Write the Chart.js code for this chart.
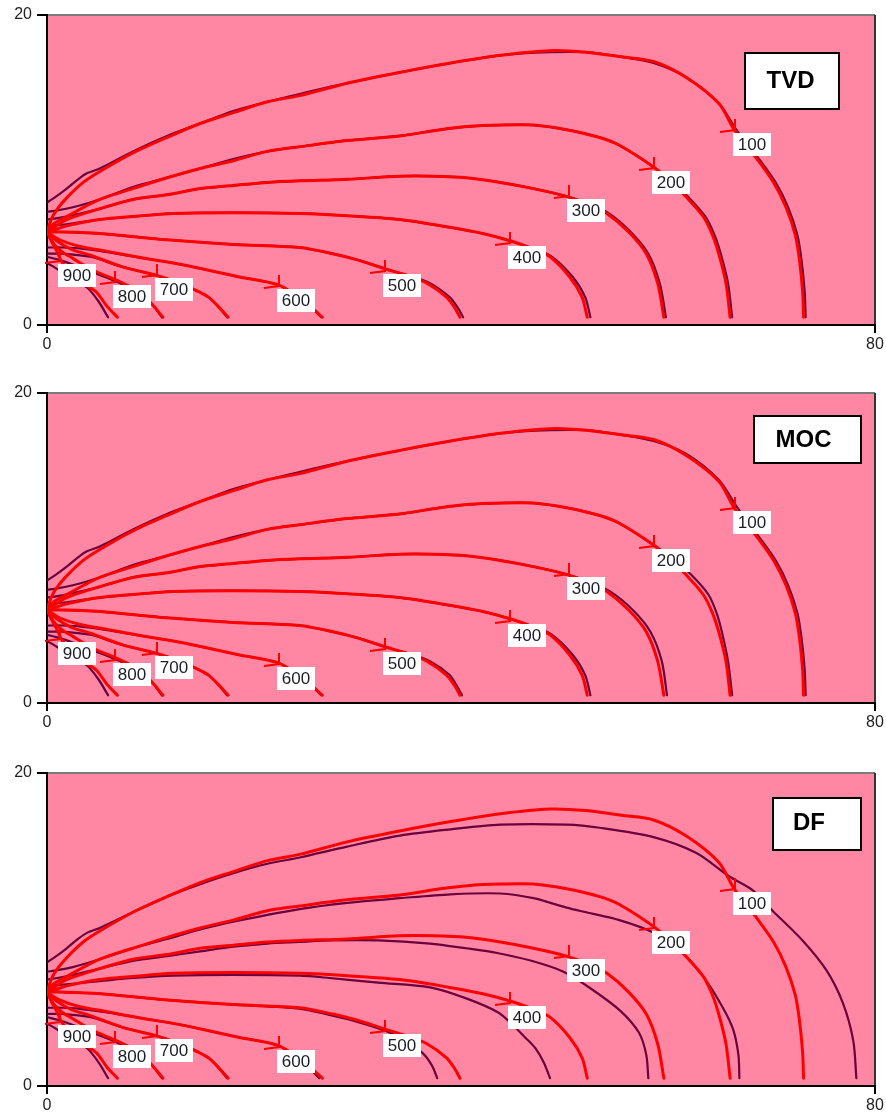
<!DOCTYPE html>
<html>
<head>
<meta charset="utf-8">
<script src="https://cdn.jsdelivr.net/npm/chart.js@4/dist/chart.umd.min.js"></script>
<style>
  html, body { margin: 0; padding: 0; background: #ffffff; }
  body { width: 886px; height: 1115px; position: relative; overflow: hidden; }
  .panel { position: absolute; left: 0; width: 886px; }
  canvas { display: block; }
</style>
</head>
<body>
<div class="panel" style="top:0px"><canvas id="c1" width="886" height="360"></canvas></div>
<div class="panel" style="top:378px"><canvas id="c2" width="886" height="360"></canvas></div>
<div class="panel" style="top:758px"><canvas id="c3" width="886" height="357"></canvas></div>
<script>
// Contour levels (front positions), innermost label last
const contourLevels = ['100', '200', '300', '400', '500', '600', '700', '800', '900'];

// Axis ranges and tick values
const xTicks = [0, 80];
const yTicks = [0, 20];

// Reference solution fronts (red) as [x, y]
const ref100 = [[0,6.0],[0.4,6.8],[0.9,7.4],[1.9,8.2],[3.5,9.2],[5.1,9.9],[8.3,11.1],[11.6,12.1],[14.8,13.0],[18.0,13.7],[21.3,14.4],[24.4,14.8],[29.0,15.6],[34.1,16.3],[39.0,16.9],[43.8,17.4],[48.6,17.7],[52.1,17.6],[55.5,17.3],[58.6,17.0],[61.7,16.0],[64.9,14.3],[66.4,12.6],[68.5,10.8],[70.2,9.2],[71.4,7.6],[72.3,5.8],[72.7,4.2],[73.0,2.2],[73.1,0.5]];
const ref200 = [[0,6.0],[0.6,6.5],[1.9,7.0],[5.1,8.1],[8.3,8.8],[11.6,9.5],[14.8,10.1],[18.0,10.6],[21.3,11.2],[24.4,11.5],[29.0,11.9],[34.1,12.2],[38.0,12.6],[40.6,12.8],[43.8,12.9],[47.0,12.9],[50.2,12.6],[53.4,12.1],[55.3,11.6],[58.6,10.2],[60.2,9.3],[61.7,8.3],[63.4,7.0],[64.3,5.8],[64.9,4.6],[65.6,2.7],[66.0,0.5]];
const ref300 = [[0,6.0],[0.7,6.3],[1.9,6.8],[5.1,7.5],[8.3,8.1],[11.6,8.4],[14.8,8.8],[18.0,9.0],[21.3,9.2],[24.4,9.3],[29.0,9.4],[34.1,9.6],[37.3,9.6],[40.5,9.5],[43.8,9.2],[47.0,8.8],[50.2,8.3],[52.3,7.8],[54.1,7.2],[56.2,6.0],[57.9,4.6],[59.0,2.7],[59.6,0.5]];
const ref400 = [[0,6.0],[1.0,6.2],[1.9,6.4],[5.1,6.8],[8.3,7.0],[12.2,7.2],[18.0,7.25],[24.4,7.2],[29.0,7.05],[34.1,6.8],[38.9,6.3],[42.1,5.9],[44.9,5.4],[47.0,4.9],[48.6,4.4],[50.5,3.1],[51.7,1.8],[52.2,0.5]];
const ref500 = [[0,6.0],[1.5,6.0],[5.1,5.9],[11.6,5.5],[18.0,5.2],[24.4,5.0],[27.6,4.6],[30.0,4.2],[32.8,3.6],[34.8,3.2],[36.7,2.7],[38.6,1.8],[39.4,1.1],[39.9,0.5]];
const ref600 = [[0,6.0],[1.2,5.5],[3.0,5.1],[5.8,4.75],[9.0,4.35],[12.2,4.0],[15.5,3.55],[18.6,3.1],[22.3,2.6],[24.3,1.8],[25.6,1.1],[26.6,0.5]];
const ref700 = [[0,6.0],[1.0,5.4],[2.3,4.9],[4.2,4.5],[7.3,3.75],[10.6,3.2],[12.8,2.7],[14.5,2.2],[15.6,1.8],[16.4,1.3],[17.5,0.5]];
const ref800 = [[0,6.0],[0.7,5.2],[1.5,4.7],[2.5,4.3],[4.4,3.55],[6.7,2.9],[8.5,2.3],[9.6,1.7],[10.2,1.3],[11.2,0.5]];
const ref900 = [[0,6.0],[0.5,5.3],[1.0,4.7],[1.4,4.1],[2.5,3.3],[3.5,2.7],[4.8,2.1],[5.8,1.2],[6.8,0.5]];

// TVD scheme fronts (dark)
const tvd100 = [[0,7.9],[0.9,8.3],[1.9,8.8],[3.0,9.4],[3.9,9.8],[5.1,10.1],[8.3,11.2],[11.6,12.2],[14.8,13.0],[18.0,13.8],[21.3,14.4],[24.4,14.9],[29.0,15.6],[34.1,16.3],[39.0,16.9],[43.8,17.4],[48.6,17.6],[52.1,17.6],[55.5,17.3],[58.6,16.9],[61.7,16.0],[64.9,14.3],[66.6,12.6],[68.7,10.8],[70.4,9.2],[71.6,7.6],[72.5,5.8],[72.9,4.2],[73.2,2.2],[73.3,0.5]];
const tvd200 = [[0,7.3],[1.0,7.4],[2.5,7.6],[5.1,8.1],[8.3,8.9],[11.6,9.5],[14.8,10.1],[18.0,10.7],[21.3,11.2],[24.4,11.5],[29.0,11.9],[34.1,12.2],[38.0,12.6],[40.6,12.8],[43.8,12.9],[47.0,12.9],[50.2,12.6],[53.4,12.1],[55.3,11.6],[58.6,10.2],[60.3,9.3],[61.9,8.3],[63.6,7.0],[64.5,5.8],[65.1,4.6],[65.8,2.7],[66.2,0.5]];
const tvd300 = [[0,6.8],[1.0,6.9],[2.5,7.1],[5.1,7.5],[8.3,8.1],[11.6,8.4],[14.8,8.8],[18.0,9.0],[21.3,9.2],[24.4,9.3],[29.0,9.4],[34.1,9.6],[37.3,9.6],[40.5,9.5],[43.8,9.2],[47.0,8.8],[50.2,8.3],[52.4,7.8],[54.3,7.2],[56.4,6.0],[58.1,4.6],[59.2,2.7],[59.8,0.5]];
const tvd400 = [[0,6.4],[1.9,6.5],[5.1,6.8],[8.3,7.0],[12.2,7.2],[18.0,7.25],[24.4,7.2],[29.0,7.05],[34.1,6.8],[38.9,6.3],[42.1,5.9],[44.9,5.4],[47.1,4.9],[48.8,4.4],[50.8,3.1],[52.0,1.8],[52.5,0.5]];
const tvd500 = [[0,6.1],[1.5,6.0],[5.1,5.9],[11.6,5.5],[18.0,5.2],[24.4,5.0],[27.6,4.6],[30.0,4.2],[32.8,3.6],[34.9,3.2],[37.0,2.7],[38.9,1.8],[39.7,1.1],[40.2,0.5]];
const tvd600 = [[0,5.0],[1.5,5.0],[3.0,4.95],[5.8,4.7],[9.0,4.35],[12.2,4.0],[15.5,3.55],[18.6,3.1],[22.3,2.6],[24.3,1.8],[25.6,1.1],[26.5,0.5]];
const tvd700 = [[0,4.6],[1.5,4.6],[4.2,4.4],[7.3,3.75],[10.6,3.2],[12.8,2.7],[14.5,2.2],[15.6,1.8],[16.4,1.3],[17.4,0.5]];
const tvd800 = [[0,4.4],[1.2,4.2],[2.5,3.9],[4.4,3.4],[6.7,2.8],[8.5,2.2],[9.6,1.7],[10.2,1.3],[11.1,0.5]];
const tvd900 = [[0,4.0],[1.0,3.6],[2.0,3.1],[3.0,2.7],[3.9,2.4],[5.0,1.5],[5.9,0.5]];

// MOC scheme fronts (dark)
const moc100 = [[0,7.9],[0.9,8.3],[1.9,8.8],[3.0,9.4],[3.9,9.8],[5.1,10.1],[8.3,11.2],[11.6,12.2],[14.8,13.0],[18.0,13.8],[21.3,14.4],[24.4,14.9],[29.0,15.6],[34.1,16.3],[39.0,16.9],[43.8,17.4],[48.6,17.6],[52.1,17.6],[55.5,17.3],[58.6,16.9],[61.7,16.1],[64.9,14.4],[66.6,12.7],[68.7,10.8],[70.4,9.2],[71.6,7.6],[72.5,5.8],[72.9,4.2],[73.2,2.2],[73.3,0.5]];
const moc200 = [[0,7.3],[1.0,7.4],[2.5,7.6],[5.1,8.1],[8.3,8.9],[11.6,9.5],[14.8,10.1],[18.0,10.7],[21.3,11.2],[24.4,11.5],[29.0,11.9],[34.1,12.2],[38.0,12.6],[40.6,12.8],[43.8,12.9],[47.0,12.9],[50.2,12.6],[53.4,12.1],[55.3,11.6],[58.6,10.2],[60.5,9.3],[62.2,8.3],[63.9,7.0],[64.7,5.8],[65.2,4.6],[65.8,2.7],[66.2,0.5]];
const moc300 = [[0,6.8],[1.0,6.9],[2.5,7.1],[5.1,7.5],[8.3,8.1],[11.6,8.4],[14.8,8.8],[18.0,9.0],[21.3,9.2],[24.4,9.3],[29.0,9.4],[34.1,9.6],[37.3,9.6],[40.5,9.5],[43.8,9.2],[47.0,8.8],[50.2,8.3],[52.4,7.8],[54.4,7.2],[56.6,6.0],[58.3,4.6],[59.4,2.7],[59.9,0.5]];
const moc400 = [[0,6.4],[1.9,6.5],[5.1,6.8],[8.3,7.0],[12.2,7.2],[18.0,7.25],[24.4,7.2],[29.0,7.05],[34.1,6.8],[38.9,6.3],[42.1,5.9],[44.9,5.4],[47.1,4.9],[48.8,4.4],[50.8,3.1],[52.0,1.8],[52.5,0.5]];
const moc500 = [[0,6.1],[1.5,6.0],[5.1,5.9],[11.6,5.5],[18.0,5.2],[24.4,5.0],[27.6,4.6],[30.0,4.2],[32.8,3.6],[34.9,3.2],[37.0,2.7],[38.9,1.8],[39.6,1.1],[40.1,0.5]];
const moc600 = [[0,5.0],[1.5,5.0],[3.0,4.95],[5.8,4.7],[9.0,4.35],[12.2,4.0],[15.5,3.55],[18.6,3.1],[22.3,2.6],[24.3,1.8],[25.6,1.1],[26.5,0.5]];
const moc700 = [[0,4.6],[1.5,4.6],[4.2,4.4],[7.3,3.75],[10.6,3.2],[12.8,2.7],[14.5,2.2],[15.6,1.8],[16.4,1.3],[17.4,0.5]];
const moc800 = [[0,4.4],[1.2,4.2],[2.5,3.9],[4.4,3.4],[6.7,2.8],[8.5,2.2],[9.6,1.7],[10.2,1.3],[11.1,0.5]];
const moc900 = [[0,4.0],[1.0,3.6],[2.0,3.1],[3.0,2.7],[3.9,2.4],[5.0,1.5],[5.9,0.5]];

// DF scheme fronts (dark)
const df100 = [[0,7.9],[0.9,8.3],[1.9,8.8],[3.0,9.4],[3.9,9.8],[5.1,10.1],[8.3,11.1],[11.6,12.1],[14.8,12.9],[18.0,13.6],[21.3,14.2],[24.4,14.6],[29.0,15.3],[34.1,16.0],[39.0,16.4],[43.8,16.7],[50.2,16.7],[53.4,16.5],[58.6,15.9],[62.7,14.9],[65.9,13.4],[68.2,12.5],[70.1,11.2],[73.0,9.3],[75.3,7.4],[76.9,5.3],[77.9,2.9],[78.2,0.5]];
const df200 = [[0,7.3],[1.0,7.4],[2.5,7.6],[5.1,8.1],[8.3,8.8],[11.6,9.4],[14.8,10.0],[18.0,10.5],[24.4,11.3],[29.0,11.7],[34.1,12.0],[39.0,12.25],[43.8,12.3],[47.0,12.0],[50.2,11.4],[52.1,11.1],[55.3,10.6],[58.6,9.8],[61.1,8.7],[63.4,7.0],[65.3,5.0],[66.3,3.6],[66.8,2.0],[66.9,0.5]];
const df300 = [[0,6.8],[1.0,6.9],[2.5,7.1],[5.1,7.5],[8.3,8.0],[11.6,8.3],[14.8,8.6],[18.0,8.9],[21.3,9.1],[24.4,9.2],[27.3,9.3],[32.0,9.3],[37.0,9.1],[40.5,8.8],[43.5,8.5],[46.8,8.0],[49.9,7.3],[52.6,6.2],[55.4,4.8],[57.2,3.4],[57.9,2.0],[58.1,0.5]];
const df400 = [[0,6.4],[1.9,6.5],[5.1,6.7],[8.3,6.9],[12.2,7.05],[18.0,7.1],[24.4,7.05],[27.3,6.9],[32.0,6.6],[37.0,6.3],[40.5,5.6],[43.6,4.7],[45.0,3.9],[46.2,3.1],[47.2,2.4],[48.0,1.5],[48.6,0.5]];
const df500 = [[0,6.1],[1.5,6.0],[5.1,5.9],[11.6,5.5],[18.0,5.2],[24.4,4.95],[27.6,4.5],[30.0,4.1],[32.8,3.5],[34.6,2.9],[36.3,2.1],[37.2,1.3],[37.7,0.5]];
const df600 = [[0,5.0],[1.5,5.0],[3.0,4.95],[5.8,4.7],[9.0,4.35],[12.2,4.0],[15.5,3.55],[18.6,3.1],[22.3,2.6],[24.2,1.8],[25.4,1.1],[26.3,0.5]];
const df700 = [[0,4.6],[1.5,4.6],[4.2,4.4],[7.3,3.75],[10.6,3.2],[12.8,2.7],[14.5,2.2],[15.6,1.8],[16.4,1.3],[17.4,0.5]];
const df800 = [[0,4.4],[1.2,4.2],[2.5,3.9],[4.4,3.4],[6.7,2.8],[8.5,2.2],[9.6,1.7],[10.2,1.3],[11.1,0.5]];
const df900 = [[0,4.0],[1.0,3.6],[2.0,3.1],[3.0,2.7],[3.9,2.4],[5.0,1.5],[5.9,0.5]];

// Where each contour label's arrow points, in data units
const labelTips = [[66.5,12.6],[58.6,10.1],[50.4,8.3],[44.7,5.3],[32.7,3.5],[22.4,2.5],[10.6,3.2],[6.6,2.8],[1.3,4.1]];

const refFronts = [ref100, ref200, ref300, ref400, ref500, ref600, ref700, ref800, ref900];
const tvdFronts = [tvd100, tvd200, tvd300, tvd400, tvd500, tvd600, tvd700, tvd800, tvd900];
const mocFronts = [moc100, moc200, moc300, moc400, moc500, moc600, moc700, moc800, moc900];
const dfFronts  = [df100, df200, df300, df400, df500, df600, df700, df800, df900];

const PINK = '#FF87A3';
const RED = '#FF0000';
const DARK = '#6A003C';
const FONT = "'Liberation Sans', Arial, sans-serif";

const toXY = pts => pts.map(p => ({ x: p[0], y: p[1] }));

// Pink plot area with a grey frame on top and right
const plotBackground = {
  id: 'plotBackground',
  beforeDraw(chart) {
    const { ctx, chartArea: a } = chart;
    ctx.save();
    ctx.fillStyle = PINK;
    ctx.fillRect(a.left, a.top, a.right - a.left, a.bottom - a.top);
    ctx.strokeStyle = '#7a7a7a';
    ctx.lineWidth = 2;
    ctx.beginPath();
    ctx.moveTo(a.left, a.top);
    ctx.lineTo(a.right, a.top);
    ctx.stroke();
    ctx.strokeStyle = '#333333';
    ctx.beginPath();
    ctx.moveTo(a.right, a.top);
    ctx.lineTo(a.right, a.bottom);
    ctx.stroke();
    ctx.restore();
  }
};

// Contour labels with arrowheads, and the scheme name box
const contourLabels = {
  id: 'contourLabels',
  afterDatasetsDraw(chart, args, opts) {
    const { ctx, chartArea: a } = chart;
    const xs = chart.scales.x, ys = chart.scales.y;
    ctx.save();
    labelTips.forEach((t, i) => {
      const px = Math.round(xs.getPixelForValue(t[0]));
      const py = Math.round(ys.getPixelForValue(t[1]));
      // arrowhead: one barb up, one barb left
      ctx.strokeStyle = RED;
      ctx.lineWidth = 2;
      ctx.beginPath();
      ctx.moveTo(px, py - 11);
      ctx.lineTo(px, py);
      ctx.lineTo(px - 15, py + 2);
      ctx.stroke();
      // white label box
      const bx = px - 2, by = py + 3, bw = 38, bh = 23;
      ctx.fillStyle = '#ffffff';
      ctx.fillRect(bx, by, bw, bh);
      ctx.fillStyle = '#1c1c2a';
      ctx.font = '17px ' + FONT;
      ctx.textAlign = 'center';
      ctx.textBaseline = 'middle';
      ctx.fillText(contourLevels[i], bx + bw / 2, by + bh / 2 + 1);
    });
    // scheme name box
    const b = opts.box;
    const x0 = a.left + b.x, y0 = a.top + b.y;
    ctx.fillStyle = '#ffffff';
    ctx.fillRect(x0, y0, b.w, b.h);
    ctx.strokeStyle = '#000000';
    ctx.lineWidth = 2;
    ctx.strokeRect(x0, y0, b.w, b.h);
    ctx.fillStyle = '#000000';
    ctx.font = 'bold 24px ' + FONT;
    ctx.textAlign = 'center';
    ctx.textBaseline = 'middle';
    ctx.fillText(opts.name, x0 + b.w / 2 + b.tx, y0 + b.h / 2 + b.ty + 1);
    ctx.restore();
  }
};

function makePanel(canvasId, name, darkFronts, box, axisHeight) {
  const datasets = [];
  refFronts.forEach((f, i) => {
    datasets.push({
      label: 'ref ' + contourLevels[i],
      data: toXY(f),
      borderColor: RED,
      borderWidth: 3,
      order: 0
    });
  });
  darkFronts.forEach((f, i) => {
    datasets.push({
      label: name + ' ' + contourLevels[i],
      data: toXY(f),
      borderColor: DARK,
      borderWidth: 2.2,
      order: 1
    });
  });

  return new Chart(document.getElementById(canvasId), {
    type: 'scatter',
    data: { datasets },
    plugins: [plotBackground, contourLabels],
    options: {
      responsive: false,
      animation: false,
      events: [],
      layout: { padding: { top: 15, right: 11, left: 0, bottom: 0 } },
      elements: {
        point: { radius: 0 },
        line: { tension: 0.3, borderCapStyle: 'round', borderJoinStyle: 'round', fill: false }
      },
      datasets: { scatter: { showLine: true } },
      plugins: {
        legend: { display: false },
        tooltip: { enabled: false },
        contourLabels: { name, box }
      },
      scales: {
        x: {
          type: 'linear',
          min: xTicks[0], max: xTicks[xTicks.length - 1],
          afterBuildTicks: s => { s.ticks = xTicks.map(v => ({ value: v })); },
          afterFit: s => { s.height = axisHeight; },
          grid: { drawOnChartArea: false, drawTicks: true, tickLength: 8, color: '#000', lineWidth: 2 },
          border: { display: true, color: '#000', width: 2 },
          ticks: { padding: 2, color: '#222', font: { family: FONT, size: 16 }, maxRotation: 0 }
        },
        y: {
          type: 'linear',
          min: yTicks[0], max: yTicks[yTicks.length - 1],
          afterBuildTicks: s => { s.ticks = yTicks.map(v => ({ value: v })); },
          afterFit: s => { s.width = 47; },
          grid: { drawOnChartArea: false, drawTicks: true, tickLength: 10, color: '#000', lineWidth: 2 },
          border: { display: true, color: '#000', width: 2 },
          ticks: { padding: 5, color: '#222', font: { family: FONT, size: 16 } }
        }
      }
    }
  });
}

makePanel('c1', 'TVD', tvdFronts, { x: 698, y: 38, w: 94, h: 56, tx: -1.5, ty: -1 }, 35);
makePanel('c2', 'MOC', mocFronts, { x: 707, y: 23, w: 107, h: 47, tx: -4, ty: 0 }, 35);
makePanel('c3', 'DF', dfFronts, { x: 726, y: 25, w: 88, h: 52, tx: -8, ty: -2 }, 29);
</script>
</body>
</html>
